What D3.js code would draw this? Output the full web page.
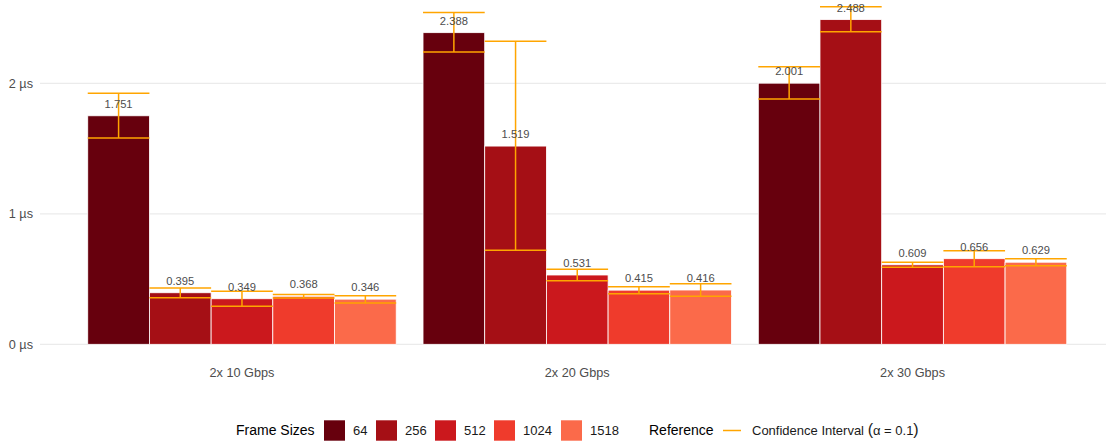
<!DOCTYPE html>
<html>
<head>
<meta charset="utf-8">
<script src="https://cdn.jsdelivr.net/npm/d3@7"></script>
<style>
  html, body { margin: 0; padding: 0; background: #fff; }
  svg { display: block; font-family: "Liberation Sans", Arial, Helvetica, sans-serif; }
</style>
</head>
<body>
<svg id="chart" width="1109" height="445"></svg>
<script>
const groups = ["2x 10 Gbps", "2x 20 Gbps", "2x 30 Gbps"];
const frameSizes = ["64", "256", "512", "1024", "1518"];
const colors = ["#67000d", "#a50f15", "#cb181d", "#ef3b2c", "#fb6a4a"];
// mean latency (µs), per group, per frame size
const means10 = [1.751, 0.395, 0.349, 0.368, 0.346];
const means20 = [2.388, 1.519, 0.531, 0.415, 0.416];
const means30 = [2.001, 2.488, 0.609, 0.656, 0.629];
// confidence interval bounds (µs)
const lower10 = [1.581, 0.357, 0.291, 0.355, 0.316];
const upper10 = [1.923, 0.431, 0.406, 0.382, 0.372];
const lower20 = [2.240, 0.720, 0.487, 0.388, 0.368];
const upper20 = [2.542, 2.322, 0.575, 0.441, 0.464];
const lower30 = [1.880, 2.395, 0.590, 0.595, 0.602];
const upper30 = [2.127, 2.587, 0.628, 0.717, 0.656];
const yTicks = [0, 1, 2];

const means = [means10, means20, means30];
const lowers = [lower10, lower20, lower30];
const uppers = [upper10, upper20, upper30];

const data = [];
groups.forEach((g, gi) => {
  frameSizes.forEach((f, fi) => {
    data.push({ group: g, size: f, mean: means[gi][fi], lo: lowers[gi][fi], hi: uppers[gi][fi] });
  });
});

const svg = d3.select("#chart");

const x = d3.scaleBand().domain(groups).range([40.8, 1113.7]).paddingInner(0.08).paddingOuter(0.14);
const xs = d3.scaleBand().domain(frameSizes).range([0, x.bandwidth()]).padding(0);
const y = d3.scaleLinear().domain([0, 2.6]).range([344.3, 5]);
const color = d3.scaleOrdinal().domain(frameSizes).range(colors);

// gridlines
svg.append("g").selectAll("line").data(yTicks).join("line")
  .attr("x1", 40).attr("x2", 1106)
  .attr("y1", d => y(d)).attr("y2", d => y(d))
  .attr("stroke", "#ebebeb").attr("stroke-width", 1.3);

// y axis
const yAxis = d3.axisLeft(y).tickValues(yTicks).tickSize(0).tickPadding(7).tickFormat(d => d + " µs");
const yg = svg.append("g").attr("transform", "translate(40,0)").call(yAxis);
yg.select(".domain").remove();
yg.selectAll("text").attr("fill", "#4d4d4d").style("font-size", "12.7px")
  .style("font-family", "Liberation Sans, Arial, sans-serif");

// x axis
const xAxis = d3.axisBottom(x).tickSize(0).tickPadding(0);
const xg = svg.append("g").attr("transform", "translate(0,367.5)").call(xAxis);
xg.select(".domain").remove();
xg.selectAll("text").attr("fill", "#4d4d4d").style("font-size", "12.7px")
  .style("font-family", "Liberation Sans, Arial, sans-serif");

// bars
const bars = svg.append("g");
bars.selectAll("rect").data(data).join("rect")
  .attr("x", d => x(d.group) + xs(d.size))
  .attr("width", xs.bandwidth())
  .attr("y", d => y(d.mean))
  .attr("height", d => y(0) - y(d.mean))
  .attr("fill", d => color(d.size))
  .attr("stroke", "#fff").attr("stroke-width", 0.8);

// error bars
const eb = svg.append("g").attr("stroke", "#FFA500").attr("stroke-width", 1.5).attr("fill", "none");
data.forEach(d => {
  const x0 = x(d.group) + xs(d.size);
  const x1 = x0 + xs.bandwidth();
  const xc = x0 + xs.bandwidth() / 2;
  eb.append("line").attr("x1", x0).attr("x2", x1).attr("y1", y(d.hi)).attr("y2", y(d.hi));
  eb.append("line").attr("x1", x0).attr("x2", x1).attr("y1", y(d.lo)).attr("y2", y(d.lo));
  eb.append("line").attr("x1", xc).attr("x2", xc).attr("y1", y(d.hi)).attr("y2", y(d.lo));
});

// value labels
svg.append("g").selectAll("text").data(data).join("text")
  .attr("x", d => x(d.group) + xs(d.size) + xs.bandwidth() / 2)
  .attr("y", d => y(d.mean) - 8)
  .attr("text-anchor", "middle")
  .attr("fill", "#4d4d4d")
  .style("font-size", "11.2px")
  .text(d => d.mean.toFixed(3));

// legend
const lg = svg.append("g");
const ly = 430.5;
lg.append("text").attr("x", 236).attr("y", ly).attr("dy", "0.35em")
  .style("font-size", "14px").attr("fill", "#000").text("Frame Sizes");
const keyX = [324, 376, 435, 494, 561];
frameSizes.forEach((f, i) => {
  lg.append("rect").attr("x", keyX[i]).attr("y", ly - 10.2).attr("width", 21).attr("height", 20.4)
    .attr("fill", color(f));
  lg.append("text").attr("x", keyX[i] + 29).attr("y", ly).attr("dy", "0.35em")
    .style("font-size", "13px").attr("fill", "#1a1a1a").text(f);
});
lg.append("text").attr("x", 649).attr("y", ly).attr("dy", "0.35em")
  .style("font-size", "14px").attr("fill", "#000").text("Reference");
lg.append("line").attr("x1", 723).attr("x2", 741).attr("y1", ly).attr("y2", ly)
  .attr("stroke", "#FFA500").attr("stroke-width", 1.5);
const ci = lg.append("text").attr("x", 752).attr("y", ly).attr("dy", "0.35em")
  .style("font-size", "13px").attr("fill", "#1a1a1a");
ci.append("tspan").text("Confidence Interval ");
ci.append("tspan").style("font-size", "16px").text("(");
ci.append("tspan").text("α = 0.1");
ci.append("tspan").style("font-size", "16px").text(")");
</script>
</body>
</html>
